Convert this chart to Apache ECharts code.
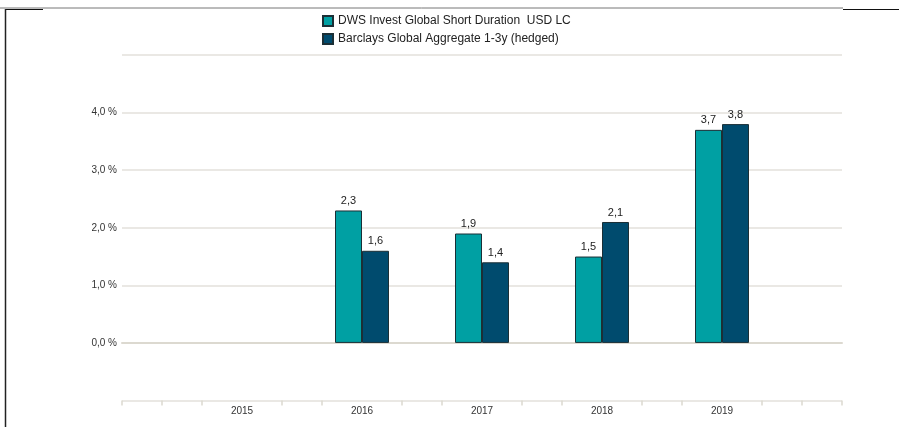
<!DOCTYPE html>
<html>
<head>
<meta charset="utf-8">
<script src="https://cdn.jsdelivr.net/npm/echarts@6/dist/echarts.min.js"></script>
<style>
  html, body { margin: 0; padding: 0; background: #fff; }
  #chart { width: 899px; height: 427px; }
</style>
</head>
<body>
<div id="chart"></div>
<script>
// years on the axis, blank ends so the labels sit on the inner points
var years = ['', '2015', '2016', '2017', '2018', '2019', ''];
var fundName = 'DWS Invest Global Short Duration  USD LC';
var benchName = 'Barclays Global Aggregate 1-3y (hedged)';
var fundValues = [null, null, 2.3, 1.9, 1.5, 3.7, null];
var benchValues = [null, null, 1.6, 1.4, 2.1, 3.8, null];
// finer tick marks along the bottom axis (3 per year)
var tickSlots = [];
for (var i = 0; i < 19; i++) tickSlots.push(String(i));

function comma(v, digits) {
  return v.toFixed(digits).replace('.', ',');
}

var chart = echarts.init(document.getElementById('chart'));
var option = {
  animation: false,
  textStyle: { fontFamily: 'Liberation Sans, Arial, sans-serif' },
  legend: {
    orient: 'vertical',
    left: 317,
    top: 10,
    icon: 'rect',
    itemWidth: 10,
    itemHeight: 10,
    itemGap: 6,
    textStyle: { fontSize: 12, color: '#222' },
    data: [fundName, benchName]
  },
  grid: { left: 122, right: 57, top: 55, bottom: 26.5 },
  xAxis: [
    {
      type: 'category',
      data: years,
      boundaryGap: false,
      axisLine: { lineStyle: { color: '#dcd9d0', width: 2 } },
      axisTick: { show: false },
      axisLabel: { color: '#333', fontSize: 10, margin: 6 }
    },
    {
      type: 'category',
      data: tickSlots,
      boundaryGap: false,
      position: 'bottom',
      axisLine: { show: false },
      axisLabel: { show: false },
      axisTick: {
        length: 5,
        lineStyle: { color: '#dcd9d0', width: 1.5 },
        interval: function (idx) {
          return idx === 0 || idx === 18 || idx % 3 !== 0;
        }
      }
    }
  ],
  yAxis: {
    type: 'value',
    min: -1,
    max: 5,
    interval: 1,
    axisLine: { show: false },
    axisTick: { show: false },
    splitLine: { lineStyle: { color: '#e3e1db', width: 1.5 } },
    axisLabel: {
      color: '#333',
      fontSize: 10,
      margin: 5,
      formatter: function (v) {
        if (v < 0 || v > 4) return '';
        return comma(v, 1) + ' %';
      }
    }
  },
  series: [
    {
      name: fundName,
      type: 'bar',
      data: fundValues,
      barWidth: 27,
      barGap: '0%',
      itemStyle: { color: '#00a0a3', borderColor: '#1b2f36', borderWidth: 1 },
      label: {
        show: true,
        position: 'top',
        distance: 4,
        fontSize: 11,
        color: '#222',
        formatter: function (p) { return comma(p.value, 1); }
      }
    },
    {
      name: benchName,
      type: 'bar',
      data: benchValues,
      barWidth: 27,
      barGap: '0%',
      itemStyle: { color: '#004b6e', borderColor: '#1b2f36', borderWidth: 1 },
      label: {
        show: true,
        position: 'top',
        distance: 4,
        fontSize: 11,
        color: '#222',
        formatter: function (p) { return comma(p.value, 1); }
      }
    }
  ],
  graphic: [
    { type: 'line', shape: { x1: 0, y1: 8, x2: 843, y2: 8 }, style: { stroke: '#777', lineWidth: 1 } },
    { type: 'line', shape: { x1: 5, y1: 9.5, x2: 43, y2: 9.5 }, style: { stroke: '#111', lineWidth: 1 } },
    { type: 'line', shape: { x1: 843, y1: 9.5, x2: 899, y2: 9.5 }, style: { stroke: '#111', lineWidth: 1 } },
    { type: 'line', shape: { x1: 5.5, y1: 9, x2: 5.5, y2: 427 }, style: { stroke: '#222', lineWidth: 1.5 } }
  ]
};
chart.setOption(option);
</script>
</body>
</html>
